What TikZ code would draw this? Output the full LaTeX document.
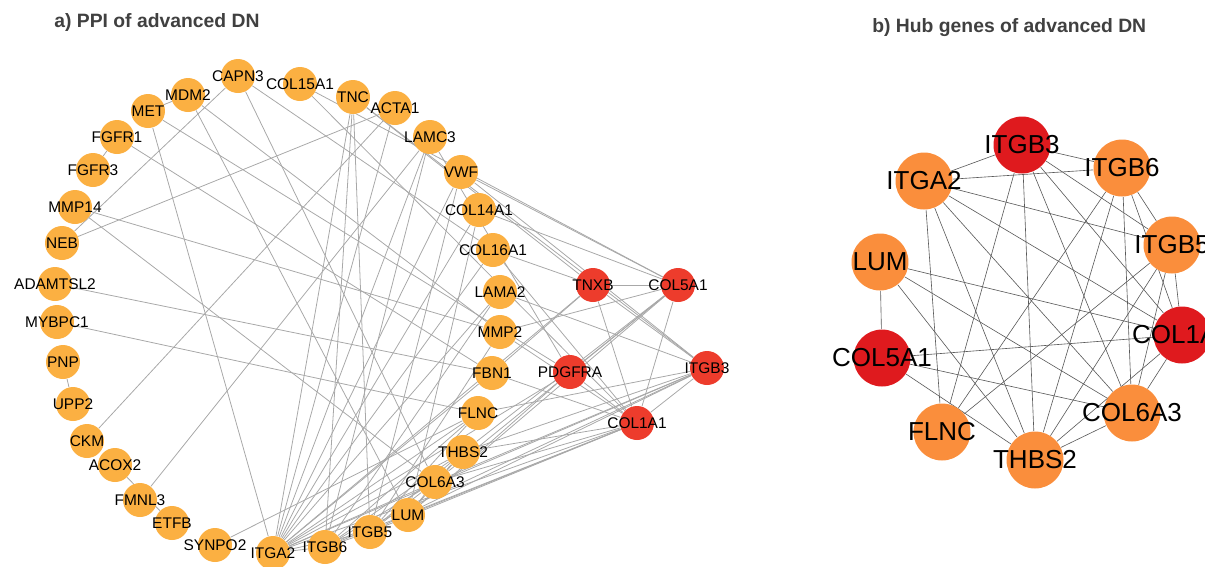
\documentclass[tikz,border=0pt]{standalone}
\usepackage{fontspec}
\setmainfont{Liberation Sans}

\definecolor{geneorange}{RGB}{251,176,66}
\definecolor{genered}{RGB}{237,60,44}
\definecolor{huborange}{RGB}{250,142,60}
\definecolor{hubred}{RGB}{223,26,30}
\definecolor{edgegray}{RGB}{168,168,168}
\definecolor{titlegray}{RGB}{64,64,64}

\pgfdeclarelayer{edges}
\pgfsetlayers{edges,main}

\tikzset{
  gene/.style={circle, fill=geneorange, minimum size=0.68cm, inner sep=0pt,
    label={[font=\fontsize{8.8}{10}\selectfont, inner sep=0pt]center:#1}},
  seed/.style={gene=#1, fill=genered},
  hub/.style={circle, fill=huborange, minimum size=1.14cm, inner sep=0pt,
    label={[font=\fontsize{14.8}{16}\selectfont, inner sep=0pt]center:#1}},
  hubtop/.style={hub=#1, fill=hubred},
  ppi/.style={draw=edgegray, line width=0.45pt},
  hubedge/.style={draw=black!65, line width=0.35pt},
  paneltitle/.style={font=\fontsize{11}{13}\selectfont\bfseries, text=titlegray,
    anchor=west, inner sep=0pt}
}

\begin{document}
\begin{tikzpicture}[x=0.02cm, y=-0.02cm]

  \useasboundingbox (0,0) rectangle (1205,566);

  % Panel titles
  \node[paneltitle] (titleA) at (54,22) {a) PPI of advanced DN};
  \node[paneltitle] (titleB) at (872,28) {b) Hub genes of advanced DN};

  % PPI network, outer arc
  \node[gene=CAPN3] (pCAPN3) at (238,76) {};
  \node[gene=COL15A1] (pCOL15A1) at (300,84) {};
  \node[gene=TNC] (pTNC) at (353,97) {};
  \node[gene=ACTA1] (pACTA1) at (395,108) {};
  \node[gene=LAMC3] (pLAMC3) at (430,137) {};
  \node[gene=VWF] (pVWF) at (461,172) {};
  \node[gene=COL14A1] (pCOL14A1) at (479,210) {};
  \node[gene=COL16A1] (pCOL16A1) at (493,250) {};
  \node[gene=LAMA2] (pLAMA2) at (500,292) {};
  \node[gene=MMP2] (pMMP2) at (500,332) {};
  \node[gene=FBN1] (pFBN1) at (492,373) {};
  \node[gene=FLNC] (pFLNC) at (478,413) {};
  \node[gene=THBS2] (pTHBS2) at (463,452) {};
  \node[gene=COL6A3] (pCOL6A3) at (435,482) {};
  \node[gene=LUM] (pLUM) at (408,515) {};
  \node[gene=ITGB5] (pITGB5) at (370,532) {};
  \node[gene=ITGB6] (pITGB6) at (325,547) {};
  \node[gene=ITGA2] (pITGA2) at (273,553) {};
  \node[gene=SYNPO2] (pSYNPO2) at (215,545) {};
  \node[gene=ETFB] (pETFB) at (172,523) {};
  \node[gene=FMNL3] (pFMNL3) at (140,500) {};
  \node[gene=ACOX2] (pACOX2) at (115,465) {};
  \node[gene=CKM] (pCKM) at (87,441) {};
  \node[gene=UPP2] (pUPP2) at (73,404) {};
  \node[gene=PNP] (pPNP) at (63,362) {};
  \node[gene=MYBPC1] (pMYBPC1) at (57,322) {};
  \node[gene=ADAMTSL2] (pADAMTSL2) at (55,284) {};
  \node[gene=NEB] (pNEB) at (62,243) {};
  \node[gene=MMP14] (pMMP14) at (75,207) {};
  \node[gene=FGFR3] (pFGFR3) at (93,170) {};
  \node[gene=FGFR1] (pFGFR1) at (117,137) {};
  \node[gene=MET] (pMET) at (148,111) {};
  \node[gene=MDM2] (pMDM2) at (188,95) {};

  % PPI network, inner seed genes
  \node[seed=TNXB] (pTNXB) at (593,285) {};
  \node[seed=COL5A1] (pCOL5A1) at (678,285) {};
  \node[seed=PDGFRA] (pPDGFRA) at (570,372) {};
  \node[seed=ITGB3] (pITGB3) at (707,368) {};
  \node[seed=COL1A1] (pCOL1A1) at (637,423) {};

  % Hub genes
  \node[hubtop=ITGB3] (hITGB3) at (1022,145) {};
  \node[hub=ITGA2] (hITGA2) at (924,181) {};
  \node[hub=ITGB6] (hITGB6) at (1122,168) {};
  \node[hub=ITGB5] (hITGB5) at (1172,245) {};
  \node[hub=LUM] (hLUM) at (880,262) {};
  \node[hubtop=COL1A1] (hCOL1A1) at (1182,335) {};
  \node[hubtop=COL5A1] (hCOL5A1) at (882,358) {};
  \node[hub=FLNC] (hFLNC) at (942,432) {};
  \node[hub=THBS2] (hTHBS2) at (1035,460) {};
  \node[hub=COL6A3] (hCOL6A3) at (1132,413) {};

  \begin{pgfonlayer}{edges}
  % Outer arc links
  \draw[ppi] (pMDM2) -- (pMET);
  \draw[ppi] (pFGFR1) -- (pFGFR3);
  \draw[ppi] (pPNP) -- (pUPP2);
  \draw[ppi] (pACOX2) -- (pETFB);
  \draw[ppi] (pCAPN3) -- (pNEB);
  \draw[ppi] (pNEB) -- (pACTA1);
  \draw[ppi] (pMMP14) -- (pMMP2);
  \draw[ppi] (pMMP14) -- (pCOL6A3);
  \draw[ppi] (pMET) -- (pITGA2);
  \draw[ppi] (pMET) -- (pPDGFRA);
  \draw[ppi] (pFGFR1) -- (pFBN1);
  \draw[ppi] (pMDM2) -- (pLUM);
  \draw[ppi] (pMDM2) -- (pMMP2);
  \draw[ppi] (pADAMTSL2) -- (pFBN1);
  \draw[ppi] (pMYBPC1) -- (pFLNC);
  \draw[ppi] (pSYNPO2) -- (pFLNC);
  \draw[ppi] (pCKM) -- (pACTA1);
  \draw[ppi] (pFMNL3) -- (pLAMC3);
  \draw[ppi] (pCAPN3) -- (pCOL6A3);
  \draw[ppi] (pCAPN3) -- (pCOL16A1);
  \draw[ppi] (pCOL15A1) -- (pCOL5A1);
  \draw[ppi] (pCOL15A1) -- (pCOL1A1);

  % Matrix and integrin links
  \draw[ppi] (pTNC) -- (pTNXB);
  \draw[ppi] (pTNC) -- (pITGA2);
  \draw[ppi] (pTNC) -- (pITGB6);
  \draw[ppi] (pTNC) -- (pITGB5);
  \draw[ppi] (pTNC) -- (pITGB3);
  \draw[ppi] (pACTA1) -- (pITGA2);
  \draw[ppi] (pLAMC3) -- (pITGA2);
  \draw[ppi] (pLAMC3) -- (pITGB6);
  \draw[ppi] (pLAMC3) -- (pPDGFRA);
  \draw[ppi] (pVWF) -- (pCOL5A1);
  \draw[ppi] (pVWF) -- (pITGB3);
  \draw[ppi] (pVWF) -- (pITGA2);
  \draw[ppi] (pVWF) -- (pITGB5);
  \draw[ppi] (pCOL14A1) -- (pCOL5A1);
  \draw[ppi] (pCOL14A1) -- (pITGA2);
  \draw[ppi] (pCOL14A1) -- (pLUM);
  \draw[ppi] (pCOL16A1) -- (pTNXB);
  \draw[ppi] (pCOL16A1) -- (pITGA2);
  \draw[ppi] (pCOL16A1) -- (pCOL1A1);
  \draw[ppi] (pLAMA2) -- (pITGB6);
  \draw[ppi] (pLAMA2) -- (pITGA2);
  \draw[ppi] (pLAMA2) -- (pITGB3);
  \draw[ppi] (pMMP2) -- (pCOL5A1);
  \draw[ppi] (pMMP2) -- (pCOL1A1);
  \draw[ppi] (pMMP2) -- (pITGB5);
  \draw[ppi] (pFBN1) -- (pTNXB);
  \draw[ppi] (pFBN1) -- (pCOL1A1);
  \draw[ppi] (pFBN1) -- (pITGA2);
  \draw[ppi] (pPDGFRA) -- (pCOL5A1);
  \draw[ppi] (pPDGFRA) -- (pCOL1A1);
  \draw[ppi] (pPDGFRA) -- (pITGA2);
  \draw[ppi] (pPDGFRA) -- (pLUM);
  \draw[ppi] (pTNXB) -- (pCOL5A1);
  \draw[ppi] (pTNXB) -- (pITGB3);
  \draw[ppi] (pTNXB) -- (pCOL1A1);
  \draw[ppi] (pTNXB) -- (pITGA2);

  % Links among the hub genes
  \draw[ppi] (pITGB3) -- (pITGA2);
  \draw[ppi] (pITGB3) -- (pITGB6);
  \draw[ppi] (pITGB3) -- (pITGB5);
  \draw[ppi] (pITGB3) -- (pCOL1A1);
  \draw[ppi] (pITGB3) -- (pCOL6A3);
  \draw[ppi] (pITGB3) -- (pTHBS2);
  \draw[ppi] (pITGB3) -- (pFLNC);
  \draw[ppi] (pITGA2) -- (pITGB6);
  \draw[ppi] (pITGA2) -- (pITGB5);
  \draw[ppi] (pITGA2) -- (pCOL1A1);
  \draw[ppi] (pITGA2) -- (pCOL6A3);
  \draw[ppi] (pITGA2) -- (pTHBS2);
  \draw[ppi] (pITGA2) -- (pFLNC);
  \draw[ppi] (pITGB6) -- (pITGB5);
  \draw[ppi] (pITGB6) -- (pCOL1A1);
  \draw[ppi] (pITGB6) -- (pCOL6A3);
  \draw[ppi] (pITGB6) -- (pTHBS2);
  \draw[ppi] (pITGB6) -- (pFLNC);
  \draw[ppi] (pITGB5) -- (pCOL1A1);
  \draw[ppi] (pITGB5) -- (pCOL6A3);
  \draw[ppi] (pITGB5) -- (pTHBS2);
  \draw[ppi] (pITGB5) -- (pFLNC);
  \draw[ppi] (pLUM) -- (pCOL5A1);
  \draw[ppi] (pLUM) -- (pCOL1A1);
  \draw[ppi] (pLUM) -- (pCOL6A3);
  \draw[ppi] (pLUM) -- (pTHBS2);
  \draw[ppi] (pCOL5A1) -- (pCOL1A1);
  \draw[ppi] (pCOL5A1) -- (pCOL6A3);
  \draw[ppi] (pCOL5A1) -- (pTHBS2);
  \draw[ppi] (pCOL1A1) -- (pCOL6A3);
  \draw[ppi] (pCOL1A1) -- (pTHBS2);
  \draw[ppi] (pTHBS2) -- (pCOL6A3);

  % Hub network
  \draw[hubedge] (hITGB3) -- (hITGA2);
  \draw[hubedge] (hITGB3) -- (hITGB6);
  \draw[hubedge] (hITGB3) -- (hITGB5);
  \draw[hubedge] (hITGB3) -- (hCOL1A1);
  \draw[hubedge] (hITGB3) -- (hCOL6A3);
  \draw[hubedge] (hITGB3) -- (hTHBS2);
  \draw[hubedge] (hITGB3) -- (hFLNC);
  \draw[hubedge] (hITGA2) -- (hITGB6);
  \draw[hubedge] (hITGA2) -- (hITGB5);
  \draw[hubedge] (hITGA2) -- (hCOL1A1);
  \draw[hubedge] (hITGA2) -- (hCOL6A3);
  \draw[hubedge] (hITGA2) -- (hTHBS2);
  \draw[hubedge] (hITGA2) -- (hFLNC);
  \draw[hubedge] (hITGB6) -- (hITGB5);
  \draw[hubedge] (hITGB6) -- (hCOL1A1);
  \draw[hubedge] (hITGB6) -- (hCOL6A3);
  \draw[hubedge] (hITGB6) -- (hTHBS2);
  \draw[hubedge] (hITGB6) -- (hFLNC);
  \draw[hubedge] (hITGB5) -- (hCOL1A1);
  \draw[hubedge] (hITGB5) -- (hCOL6A3);
  \draw[hubedge] (hITGB5) -- (hTHBS2);
  \draw[hubedge] (hITGB5) -- (hFLNC);
  \draw[hubedge] (hLUM) -- (hCOL5A1);
  \draw[hubedge] (hLUM) -- (hCOL1A1);
  \draw[hubedge] (hLUM) -- (hCOL6A3);
  \draw[hubedge] (hLUM) -- (hTHBS2);
  \draw[hubedge] (hCOL5A1) -- (hCOL1A1);
  \draw[hubedge] (hCOL5A1) -- (hCOL6A3);
  \draw[hubedge] (hCOL5A1) -- (hTHBS2);
  \draw[hubedge] (hCOL1A1) -- (hCOL6A3);
  \draw[hubedge] (hCOL1A1) -- (hTHBS2);
  \draw[hubedge] (hTHBS2) -- (hCOL6A3);
  \end{pgfonlayer}

\end{tikzpicture}
\end{document}
